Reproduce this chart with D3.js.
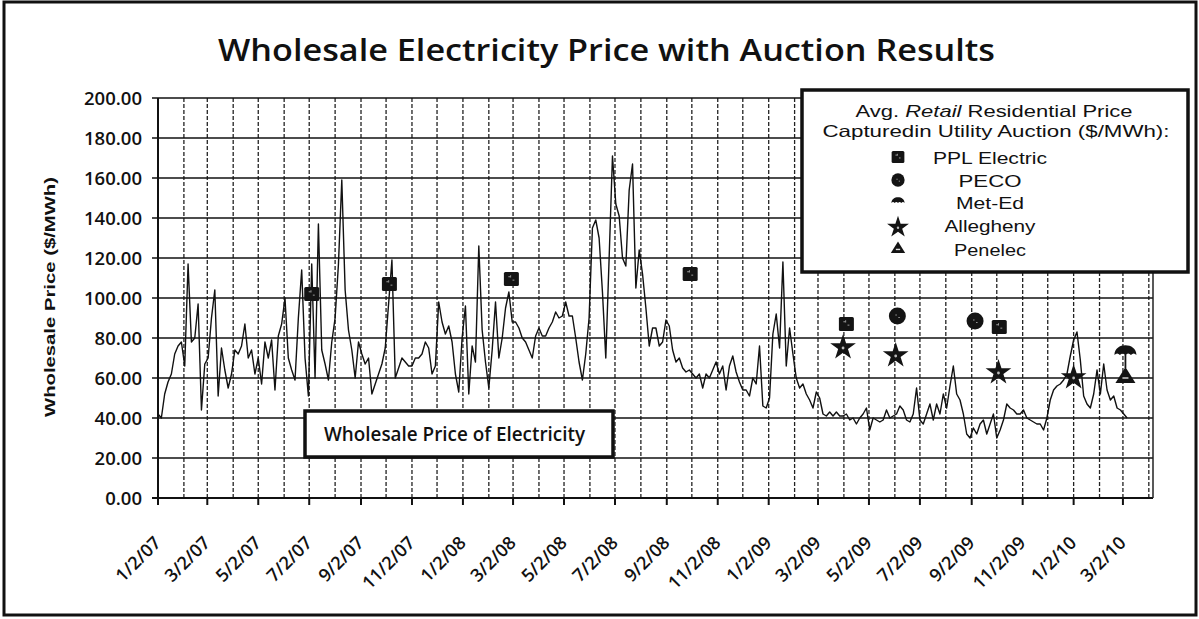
<!DOCTYPE html>
<html>
<head>
<meta charset="utf-8">
<script src="https://cdn.jsdelivr.net/npm/d3@7"></script>
<style>
  html, body { margin: 0; padding: 0; background: #fff; }
  svg { display: block; }
</style>
</head>
<body>
<svg id="chart" width="1199" height="619"></svg>
<script>
// Wholesale electricity price ($/MWh), one sample every 4 days starting 1/2/07
const priceStart = "2007-01-02";
const priceStepDays = 4;
const wholesalePrice = [
  42, 40, 52, 58, 62, 72, 76, 78, 66, 117,
  78, 80, 97, 44, 67, 70, 90, 104, 51, 75,
  64, 55, 62, 74, 72, 76, 87, 70, 74, 62,
  70, 57, 78, 70, 79, 54, 81, 87, 100, 70,
  64, 59, 90, 114, 70, 51, 117, 60, 137, 74,
  67, 59, 78, 90, 117, 159, 104, 84, 74, 60,
  78, 72, 67, 70, 52, 57, 62, 67, 75, 97,
  119, 60, 65, 70, 68, 66, 66, 70, 70, 72,
  78, 75, 62, 66, 98, 88, 82, 86, 78, 62,
  53, 80, 96, 52, 76, 68, 126, 84, 68, 55,
  74, 98, 70, 80, 95, 103, 88, 88, 85, 80,
  78, 74, 70, 81, 85, 81, 81, 85, 88, 93,
  90, 91, 98, 91, 91, 80, 68, 59, 72, 90,
  135, 139, 130, 103, 70, 120, 171, 147, 141, 120,
  116, 154, 167, 105, 124, 112, 95, 76, 85, 85,
  76, 78, 89, 86, 74, 68, 70, 65, 63, 64,
  62, 60, 62, 55, 62, 60, 64, 68, 62, 66,
  54, 66, 71, 63, 58, 54, 54, 51, 60, 57,
  76, 46, 45, 50, 82, 92, 75, 118, 66, 85,
  72, 60, 55, 57, 52, 49, 45, 53, 50, 42,
  41, 43, 41, 43, 41, 41, 42, 39, 40, 37,
  40, 42, 45, 34, 40, 39, 38, 39, 44, 40,
  41, 42, 46, 44, 39, 38, 42, 55, 39, 37,
  42, 47, 39, 47, 42, 52, 45, 56, 66, 52,
  49, 42, 32, 30, 35, 32, 37, 39, 32, 37,
  42, 30, 34, 39, 47, 45, 44, 42, 42, 44,
  40, 39, 38, 37, 37, 34, 40, 49, 54, 56,
  57, 59, 62, 71, 79, 83, 69, 51, 47, 45,
  52, 64, 52, 67, 54, 49, 51, 45, 44, 42,
  40
];

// Axis ticks
const xTickLabels = ["1/2/07", "3/2/07", "5/2/07", "7/2/07", "9/2/07", "11/2/07",
  "1/2/08", "3/2/08", "5/2/08", "7/2/08", "9/2/08", "11/2/08",
  "1/2/09", "3/2/09", "5/2/09", "7/2/09", "9/2/09", "11/2/09",
  "1/2/10", "3/2/10"];
const yTicks = [0, 20, 40, 60, 80, 100, 120, 140, 160, 180, 200];

// Average retail residential price captured in each utility auction ($/MWh)
const pplDates = ["2007-07-05", "2007-10-06", "2008-02-29", "2008-09-30", "2009-04-05", "2009-10-05"];
const pplValues = [102, 107, 109.5, 112, 87, 85.5];
const pecoDates = ["2009-06-05", "2009-09-06"];
const pecoValues = [91, 88.5];
const metEdDates = ["2010-03-05"];
const metEdValues = [74];
const alleghenyDates = ["2009-04-01", "2009-06-03", "2009-10-04", "2010-01-02"];
const alleghenyValues = [76, 72, 63.5, 61];
const penelecDates = ["2010-03-05"];
const penelecValues = [61];

const legendNames = ["PPL Electric", "PECO", "Met-Ed", "Allegheny", "Penelec"];

// ---------------------------------------------------------------
const svg = d3.select("#chart");
const parseISO = d3.timeParse("%Y-%m-%d");
const parseTick = d3.timeParse("%m/%d/%y");

const plot = { left: 158, right: 1153, top: 98, bottom: 498 };
const x = d3.scaleTime()
  .domain([parseISO("2007-01-02"), parseISO("2010-04-07")])
  .range([plot.left, plot.right]);
const y = d3.scaleLinear().domain([0, 200]).range([plot.bottom, plot.top]);

const start = parseISO(priceStart);
const priceSeries = wholesalePrice.map((v, i) => ({
  date: d3.timeDay.offset(start, i * priceStepDays), value: v
}));

// Outer frame
svg.append("rect")
  .attr("x", 4).attr("y", 2).attr("width", 1192).attr("height", 613)
  .attr("fill", "#fff").attr("stroke", "#111").attr("stroke-width", 3);

// Title
svg.append("text")
  .attr("x", 218).attr("y", 61)
  .attr("font-family", "'Open Sans', sans-serif")
  .attr("font-weight", 600)
  .attr("font-size", 30)
  .attr("textLength", 777).attr("lengthAdjust", "spacingAndGlyphs")
  .attr("fill", "#111")
  .text("Wholesale Electricity Price with Auction Results");

// Monthly vertical gridlines
const months = d3.timeMonth.range(new Date(2007, 0, 1), new Date(2010, 4, 1))
  .map(d => d3.timeDay.offset(d, 1))
  .filter(d => x(d) > plot.left + 1 && x(d) < plot.right - 2);
svg.append("g").selectAll("line").data(months).join("line")
  .attr("x1", d => x(d)).attr("x2", d => x(d))
  .attr("y1", plot.top).attr("y2", plot.bottom)
  .attr("stroke", "#222").attr("stroke-width", 1.3)
  .attr("stroke-dasharray", "4,2");

// Horizontal gridlines with y axis ticks
svg.append("g").selectAll("line").data(yTicks).join("line")
  .attr("x1", plot.left - 6).attr("x2", plot.right)
  .attr("y1", d => y(d)).attr("y2", d => y(d))
  .attr("stroke", "#111").attr("stroke-width", d => d === 0 ? 2 : 1.6);

// Plot borders
svg.append("line").attr("x1", plot.left).attr("x2", plot.left)
  .attr("y1", plot.top).attr("y2", plot.bottom)
  .attr("stroke", "#111").attr("stroke-width", 2);
svg.append("line").attr("x1", plot.right).attr("x2", plot.right)
  .attr("y1", plot.top).attr("y2", plot.bottom)
  .attr("stroke", "#222").attr("stroke-width", 1.5);

// Y tick labels
svg.append("g").selectAll("text").data(yTicks).join("text")
  .attr("x", 142).attr("y", d => y(d) + 7)
  .attr("text-anchor", "end")
  .attr("font-family", "'Open Sans', sans-serif")
  .attr("font-weight", 600)
  .attr("font-size", 18.5)
  .attr("fill", "#111")
  .text(d3.format(".2f"));

// X major ticks and rotated labels
const xTicks = xTickLabels.map(s => ({ label: s, date: parseTick(s) }));
svg.append("g").selectAll("line").data(xTicks).join("line")
  .attr("x1", d => x(d.date)).attr("x2", d => x(d.date))
  .attr("y1", plot.bottom).attr("y2", plot.bottom + 7)
  .attr("stroke", "#111").attr("stroke-width", 2);
svg.append("g").selectAll("text").data(xTicks).join("text")
  .attr("transform", d => `translate(${x(d.date) + 4},${plot.bottom + 46}) rotate(-45)`)
  .attr("text-anchor", "end")
  .attr("font-family", "'Open Sans', sans-serif")
  .attr("font-weight", 600)
  .attr("font-size", 18)
  .attr("fill", "#111")
  .text(d => d.label);

// Y axis title
svg.append("text")
  .attr("transform", "translate(55,297) rotate(-90)")
  .attr("text-anchor", "middle")
  .attr("font-family", "'Liberation Sans', Arial, sans-serif")
  .attr("font-weight", "bold")
  .attr("font-size", 15)
  .attr("textLength", 240).attr("lengthAdjust", "spacingAndGlyphs")
  .attr("fill", "#111")
  .text("Wholesale Price ($/MWh)");

// Wholesale price line
svg.append("path")
  .datum(priceSeries)
  .attr("d", d3.line().x(d => x(d.date)).y(d => y(d.value)))
  .attr("fill", "none")
  .attr("stroke", "#111")
  .attr("stroke-width", 1.4)
  .attr("stroke-linejoin", "round");

// Marker shapes, drawn around (0,0) and scaled by k
const shapes = {
  square(g, k) {
    const h = 7.5 * k;
    g.append("rect").attr("x", -h).attr("y", -h * 0.93).attr("width", 2 * h).attr("height", 2 * h * 0.93)
      .attr("rx", 1.5).attr("fill", "#141414");
    g.append("path").attr("d", `M${-h * 0.4},${-h * 0.3}h${h * 0.25}M${h * 0.15},${h * 0.15}h${h * 0.25}M${-h * 0.1},${-h * 0.5}v${h * 0.3}`)
      .attr("stroke", "#9a9a9a").attr("stroke-width", 1);
  },
  circle(g, k) {
    g.append("circle").attr("r", 8.5 * k).attr("fill", "#141414");
    g.append("path").attr("d", `M${-2 * k},${-1 * k}h${1.5 * k}M${1 * k},${1.5 * k}h${1.5 * k}`)
      .attr("stroke", "#9a9a9a").attr("stroke-width", 1);
  },
  dome(g, k, stem) {
    const w = 11 * k, t = 6 * k, b = 5 * k;
    g.append("path")
      .attr("d", `M${-w},${b} C${-w},${-t - 2 * k} ${w},${-t - 2 * k} ${w},${b}` +
        ` Q${w * 0.75},${b - 3 * k} ${w * 0.5},${b} Q${w * 0.25},${b - 3 * k} 0,${b}` +
        ` Q${-w * 0.25},${b - 3 * k} ${-w * 0.5},${b} Q${-w * 0.75},${b - 3 * k} ${-w},${b} Z`)
      .attr("fill", "#141414");
    if (stem) {
      g.append("line").attr("x1", 0).attr("x2", 0).attr("y1", b - 1).attr("y2", b + 13 * k)
        .attr("stroke", "#141414").attr("stroke-width", 1.8);
    }
  },
  star(g, k) {
    g.append("path").attr("d", d3.symbol(d3.symbolStar, 205 * k * k)())
      .attr("transform", `translate(0,${1.5 * k})`)
      .attr("fill", "#141414");
    g.append("circle").attr("cy", 2 * k).attr("r", 1.4 * k).attr("fill", "#bbb");
  },
  triangle(g, k) {
    g.append("path").attr("d", `M0,${-9 * k}L${10 * k},${7 * k}L${-10 * k},${7 * k}Z`).attr("fill", "#141414");
    g.append("line").attr("x1", -3 * k).attr("x2", 3 * k).attr("y1", 2 * k).attr("y2", 2 * k)
      .attr("stroke", "#ddd").attr("stroke-width", 1.4);
  }
};

function drawMarkers(dates, values, shape, stem) {
  const pts = dates.map((d, i) => ({ date: parseISO(d), value: values[i] }));
  svg.append("g").selectAll("g").data(pts).join("g")
    .attr("transform", d => `translate(${x(d.date)},${y(d.value)})`)
    .each(function () { shapes[shape](d3.select(this), 1, stem); });
}
drawMarkers(pplDates, pplValues, "square");
drawMarkers(pecoDates, pecoValues, "circle");
drawMarkers(metEdDates, metEdValues, "dome", true);
drawMarkers(alleghenyDates, alleghenyValues, "star");
drawMarkers(penelecDates, penelecValues, "triangle");

// Series label box
svg.append("rect")
  .attr("x", 305).attr("y", 411).attr("width", 308).attr("height", 46)
  .attr("fill", "#fff").attr("stroke", "#111").attr("stroke-width", 3.5);
svg.append("text")
  .attr("x", 324).attr("y", 441)
  .attr("font-family", "'Open Sans', sans-serif")
  .attr("font-weight", 600)
  .attr("font-size", 19)
  .attr("textLength", 261).attr("lengthAdjust", "spacingAndGlyphs")
  .attr("fill", "#111")
  .text("Wholesale Price of Electricity");

// Legend
const lg = svg.append("g");
lg.append("rect")
  .attr("x", 802).attr("y", 90).attr("width", 386).attr("height", 182)
  .attr("fill", "#fff").attr("stroke", "#111").attr("stroke-width", 3.5);
const legendFont = "'Liberation Sans', Arial, sans-serif";
const head1 = lg.append("text")
  .attr("x", 994).attr("y", 117).attr("text-anchor", "middle")
  .attr("font-family", legendFont).attr("font-size", 16.5).attr("fill", "#111")
  .attr("textLength", 277).attr("lengthAdjust", "spacingAndGlyphs");
head1.append("tspan").text("Avg. ");
head1.append("tspan").attr("font-style", "italic").text("Retail");
head1.append("tspan").text(" Residential Price");
lg.append("text")
  .attr("x", 996).attr("y", 137).attr("text-anchor", "middle")
  .attr("font-family", legendFont).attr("font-size", 16.5).attr("fill", "#111")
  .attr("textLength", 347).attr("lengthAdjust", "spacingAndGlyphs")
  .text("Capturedin Utility Auction ($/MWh):");

const legendShapes = ["square", "circle", "dome", "star", "triangle"];
const legendScale = [0.85, 0.78, 0.6, 0.85, 0.72];
const legendIconY = [157, 180, 200, 226, 248];
const legendTextY = [164, 186.5, 209, 232, 256];
const legendTextW = [114, 63, 68, 91, 72];
legendNames.forEach((name, i) => {
  const g = lg.append("g").attr("transform", `translate(898,${legendIconY[i]})`);
  shapes[legendShapes[i]](g, legendScale[i], false);
  lg.append("text")
    .attr("x", 990).attr("y", legendTextY[i]).attr("text-anchor", "middle")
    .attr("font-family", legendFont).attr("font-size", 16.5).attr("fill", "#111")
    .attr("textLength", legendTextW[i]).attr("lengthAdjust", "spacingAndGlyphs")
    .text(name);
});
</script>
</body>
</html>
